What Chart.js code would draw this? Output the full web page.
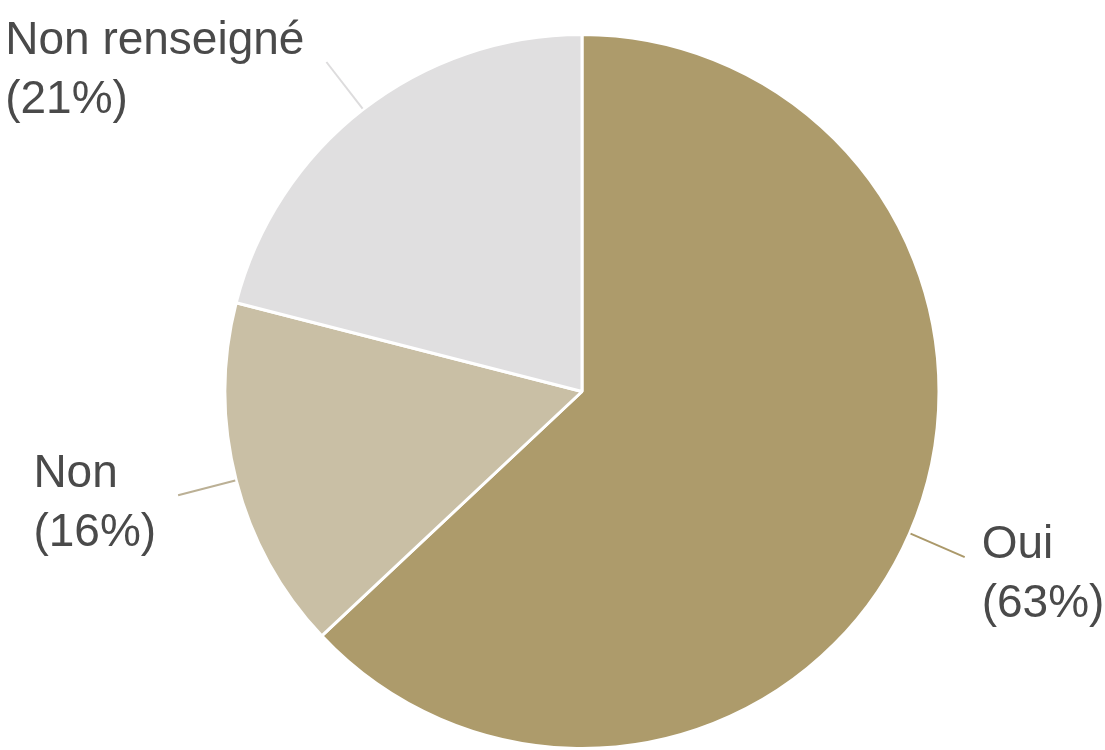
<!DOCTYPE html>
<html>
<head>
<meta charset="utf-8">
<script src="https://cdn.jsdelivr.net/npm/chart.js@4"></script>
<style>
  html, body { margin: 0; padding: 0; background: #ffffff; }
  #wrap { width: 1105px; height: 750px; position: relative; }
</style>
</head>
<body>
<div id="wrap"><canvas id="c" width="1105" height="750"></canvas></div>
<script>
const categories = ["Oui", "Non", "Non renseigné"];
const values = [63, 16, 21];
const percentLabels = ["(63%)", "(16%)", "(21%)"];
const sliceColors = ["#ad9b6b", "#c9bfa5", "#e0dfe0"];
const leaderColors = ["#ab996a", "#bbb095", "#dddcdd"];

const labelPlugin = {
  id: 'outerLabels',
  afterDatasetsDraw(chart) {
    const ctx = chart.ctx;
    const meta = chart.getDatasetMeta(0);
    ctx.save();
    ctx.font = '46px "Liberation Sans", Arial, sans-serif';
    ctx.textBaseline = 'alphabetic';
    const lineGap = 59;
    meta.data.forEach((arc, i) => {
      const p = arc.getProps(['x', 'y', 'startAngle', 'endAngle', 'outerRadius'], true);
      const mid = (p.startAngle + p.endAngle) / 2;
      const cos = Math.cos(mid), sin = Math.sin(mid);
      const r0 = p.outerRadius + 1;
      const r1 = p.outerRadius + 60;
      const x0 = p.x + cos * r0, y0 = p.y + sin * r0;
      const x1 = p.x + cos * r1, y1 = p.y + sin * r1;
      ctx.strokeStyle = leaderColors[i];
      ctx.lineWidth = 2;
      ctx.beginPath();
      ctx.moveTo(x0, y0);
      ctx.lineTo(x1, y1);
      ctx.stroke();
      const lines = [categories[i], percentLabels[i]];
      const w = Math.max(...lines.map(t => ctx.measureText(t).width));
      let tx, by;
      if (cos >= 0) { tx = x1 + 17; by = y1 + 1; }
      else { tx = x1 - 22 - w; by = y1 - 8; }
      ctx.fillStyle = '#4a4a4a';
      ctx.textAlign = 'left';
      lines.forEach((t, k) => ctx.fillText(t, tx, by + k * lineGap));
    });
    ctx.restore();
  }
};

new Chart(document.getElementById('c'), {
  type: 'pie',
  data: {
    labels: categories,
    datasets: [{
      data: values,
      backgroundColor: sliceColors,
      borderColor: '#ffffff',
      borderWidth: 3
    }]
  },
  options: {
    responsive: false,
    animation: false,
    rotation: 0,
    layout: { padding: { top: 33, bottom: 0, left: 222, right: 163 } },
    plugins: {
      legend: { display: false },
      tooltip: { enabled: false }
    }
  },
  plugins: [labelPlugin]
});
</script>
</body>
</html>
